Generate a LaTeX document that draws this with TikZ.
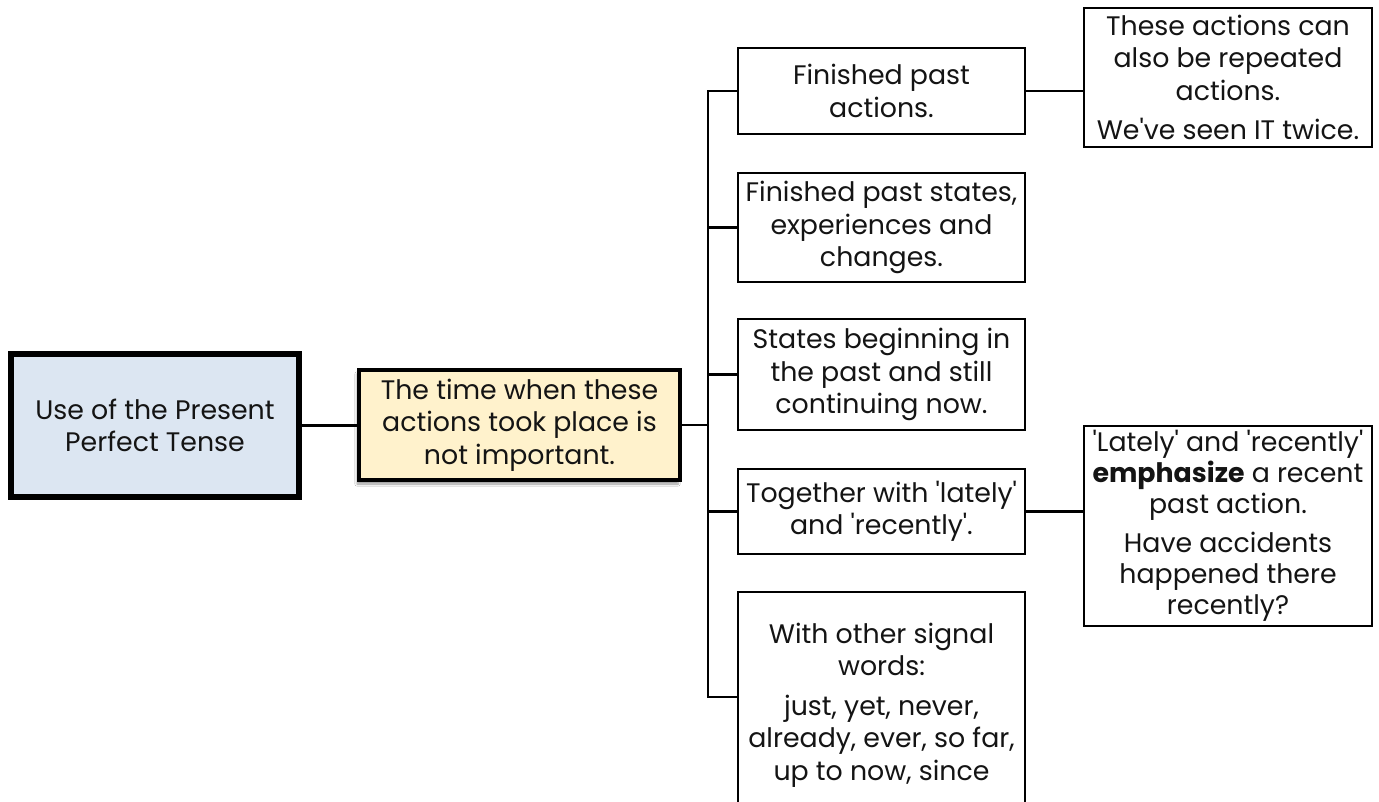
\documentclass[tikz,border=0pt]{standalone}
\usepackage{fontspec}
\setmainfont{Poppins}
\usetikzlibrary{shadows.blur}
\definecolor{rootfill}{RGB}{220,230,242}
\definecolor{midfill}{RGB}{255,242,204}
\definecolor{txt}{RGB}{20,20,20}
\newcommand{\sq}{\textquotesingle}
\begin{document}
\begin{tikzpicture}[x=1pt,y=-1pt,
  base/.style={draw=black, rectangle, align=center, inner sep=0pt, outer sep=0pt, text=txt, font=\fontsize{26.8}{32.5}\selectfont},
  rootbox/.style={base, line width=6pt, fill=rootfill},
  midbox/.style={base, line width=4pt, fill=midfill, blur shadow={shadow xshift=-2pt, shadow yshift=-4pt, shadow blur steps=6}},
  leafbox/.style={base, line width=2.5pt, fill=white, minimum width=287pt},
  sidebox/.style={base, line width=2.5pt, fill=white, minimum width=288pt},
  link/.style={draw=black, line width=2.5pt}]
\useasboundingbox (0,0) rectangle (1379,802);
\begin{scope}
\clip (0,0) rectangle (1379,802);
\fill[white] (0,0) rectangle (1379,802);
\node[rootbox, minimum width=288pt, minimum height=143pt] (root) at (155,425.5) {Use of the Present\\Perfect Tense};
\node[midbox, minimum width=321pt, minimum height=110pt] (mid) at (519.5,425) {The time when these\\actions took place is\\not important.};
\node[leafbox, minimum height=86pt] (c1) at (881.5,91) {Finished past\\actions.};
\node[leafbox, minimum height=109pt] (c2) at (881.5,227.5) {Finished past states,\\experiences and\\changes.};
\node[leafbox, minimum height=111pt] (c3) at (881.5,374.5) {States beginning in\\the past and still\\continuing now.};
\node[leafbox, minimum height=85pt] (c4) at (881.5,511.5) {Together with \sq lately\sq\\and \sq recently\sq.};
\node[leafbox, minimum height=216pt] (c5) at (881.5,700) {\rule{0pt}{30pt}With other signal\\words:\\[7pt]just, yet, never,\\already, ever, so far,\\up to now, since};
\node[sidebox, minimum height=139pt] (r1) at (1228,77.5) {These actions can\\also be repeated\\actions.\\[7pt]We\sq ve seen IT twice.};
\node[sidebox, minimum height=200pt] (r2) at (1228,526) {\raisebox{-7pt}[0pt][0pt]{\fontsize{26.8}{31}\selectfont\begin{tabular}{@{}c@{}}\sq Lately\sq\ and \sq recently\sq\\\textbf{emphasize} a recent\\past action.\\[8pt]Have accidents\\happened there\\recently?\end{tabular}}};
\coordinate (bus) at (708,425);
\coordinate (busend) at (708,697);
\draw[link] (root.east) -- (root.east -| mid.west);
\draw[link] (mid.east) -- (bus);
\draw[link] (c1.west) -| (busend) -- (busend -| c5.west);
\draw[link] (c2.west) -- (c2.west -| bus);
\draw[link] (c3.west) -- (c3.west -| bus);
\draw[link] (c4.west) -- (c4.west -| bus);
\draw[link] (c1.east) -- (c1.east -| r1.west);
\draw[link] (c4.east) -- (c4.east -| r2.west);
\end{scope}
\end{tikzpicture}
\end{document}
